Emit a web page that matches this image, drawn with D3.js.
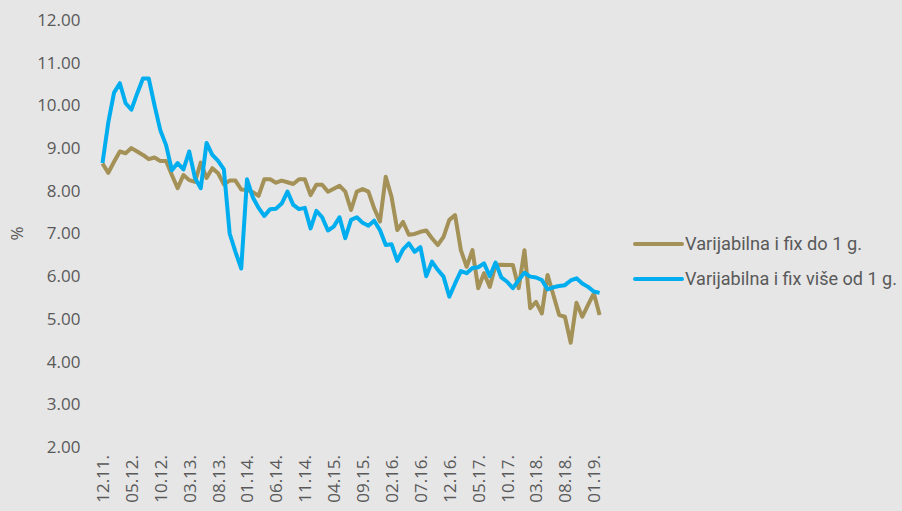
<!DOCTYPE html>
<html>
<head>
<meta charset="utf-8">
<script src="https://cdn.jsdelivr.net/npm/d3@7"></script>
<style>
  html, body { margin: 0; padding: 0; background: #e6e6e6; }
  svg { display: block; }
</style>
</head>
<body>
<div id="chart_root"></div>
<script>
const widthValue = 902;
const heightValue = 511;

// monthly points 12.11 .. 02.19, labels every 5 months
const tickLabels = ["12.11.", "05.12.", "10.12.", "03.13.", "08.13.", "01.14.", "06.14.", "11.14.", "04.15.",
  "09.15.", "02.16.", "07.16.", "12.16.", "05.17.", "10.17.", "03.18.", "08.18.", "01.19."];
const tickStep = 5;

const yTicks = [2, 3, 4, 5, 6, 7, 8, 9, 10, 11, 12];

const seriesNames = ["Varijabilna i fix do 1 g.", "Varijabilna i fix više od 1 g."];
const seriesColors = ["#a39157", "#00aeef"];

const shortRate = [
  8.64, 8.42, 8.68, 8.92, 8.88, 9.0, 8.92, 8.84, 8.74, 8.78,
  8.7, 8.7, 8.37, 8.06, 8.37, 8.25, 8.21, 8.66, 8.3, 8.53,
  8.41, 8.15, 8.24, 8.24, 8.03, 8.02, 7.97, 7.88, 8.27, 8.27,
  8.19, 8.24, 8.2, 8.16, 8.27, 8.27, 7.9, 8.14, 8.14, 7.98,
  8.05, 8.12, 7.98, 7.55, 7.98, 8.04, 7.98, 7.59, 7.28, 8.33,
  7.86, 7.08, 7.27, 6.97, 6.99, 7.04, 7.07, 6.89, 6.73, 6.92,
  7.32, 7.43, 6.61, 6.22, 6.61, 5.72, 6.07, 5.75, 6.26, 6.27,
  6.26, 6.26, 5.72, 6.61, 5.25, 5.4, 5.13, 6.03, 5.56, 5.09,
  5.05, 4.44, 5.38, 5.05, 5.33, 5.6, 5.09
];

const longRate = [
  8.65, 9.6, 10.3, 10.52, 10.05, 9.9, 10.28, 10.63, 10.63, 10.0,
  9.42, 9.07, 8.48, 8.65, 8.5, 8.92, 8.3, 8.06, 9.12, 8.84,
  8.7, 8.5, 7.0, 6.57, 6.18, 8.27, 7.85, 7.6, 7.41, 7.57,
  7.58, 7.7, 7.98, 7.67, 7.57, 7.6, 7.12, 7.53, 7.38, 7.07,
  7.16, 7.38, 6.89, 7.32, 7.38, 7.25, 7.18, 7.3, 7.08, 6.73,
  6.75, 6.36, 6.63, 6.77, 6.57, 6.68, 6.0, 6.34, 6.15, 5.99,
  5.52, 5.83, 6.12, 6.07, 6.19, 6.21, 6.3, 6.0, 6.32, 5.97,
  5.87, 5.72, 5.91, 6.08, 5.99, 5.97, 5.91, 5.69, 5.74, 5.77,
  5.79, 5.9, 5.95, 5.83, 5.75, 5.64, 5.61
];

const plot = { left: 102.5, right: 599.6, top: 20, bottom: 447 };

const svg = d3
  .select("#chart_root")
  .append("svg")
  .attr("width", widthValue)
  .attr("height", heightValue)
  .style("background", "#e6e6e6")
  .style("font-family", "'Open Sans', sans-serif");

// scales
const xScale = d3
  .scaleLinear()
  .domain([0, shortRate.length - 1])
  .range([plot.left, plot.right]);
const yScale = d3
  .scaleLinear()
  .domain([2, 12])
  .range([plot.bottom, plot.top]);

// y axis, labels only
const yAxis = svg
  .append("g")
  .attr("transform", "translate(" + (plot.left - 22) + ",0)")
  .call(d3.axisLeft(yScale).tickValues(yTicks).tickFormat(d3.format(".2f")).tickSize(0).tickPadding(0));
yAxis.select(".domain").remove();
yAxis
  .selectAll("text")
  .attr("fill", "#595959")
  .style("font-size", "17px")
  .style("font-family", "'Open Sans', sans-serif");

// x axis, rotated labels
const xAxis = svg
  .append("g")
  .attr("transform", "translate(0," + plot.bottom + ")")
  .call(
    d3
      .axisBottom(xScale)
      .tickValues(tickLabels.map((d, i) => i * tickStep))
      .tickFormat((d) => tickLabels[d / tickStep])
      .tickSize(0)
  );
xAxis.select(".domain").remove();
xAxis
  .selectAll("text")
  .attr("fill", "#595959")
  .style("font-size", "17px")
  .style("font-family", "'Open Sans', sans-serif")
  .attr("text-anchor", "end")
  .attr("transform", "rotate(-90)")
  .attr("x", -8)
  .attr("y", 0)
  .attr("dy", "0.35em");

// y title
svg
  .append("text")
  .attr("transform", "translate(17," + yScale(7) + ") rotate(-90)")
  .attr("text-anchor", "middle")
  .attr("dy", "0.35em")
  .attr("fill", "#595959")
  .style("font-size", "17px")
  .text("%");

// lines
const line = d3
  .line()
  .x((d, i) => xScale(i))
  .y((d) => yScale(d));

[shortRate, longRate].forEach((data, k) => {
  svg
    .append("path")
    .datum(data)
    .attr("fill", "none")
    .attr("stroke", seriesColors[k])
    .attr("stroke-width", 4)
    .attr("stroke-linejoin", "round")
    .attr("d", line);
});

// legend
const legendWidths = [177, 212];
const legend = svg.append("g").attr("transform", "translate(635,244)");
seriesNames.forEach((name, k) => {
  const g = legend.append("g").attr("transform", "translate(0," + k * 35 + ")");
  g.append("line")
    .attr("x1", 0)
    .attr("x2", 47)
    .attr("stroke", seriesColors[k])
    .attr("stroke-width", 4)
    .attr("stroke-linecap", "round");
  g.append("text")
    .attr("x", 50)
    .attr("dy", "0.35em")
    .attr("fill", "#595959")
    .style("font-size", "18px")
    .style("font-family", "'Liberation Sans Narrow', 'Roboto', sans-serif")
    .attr("textLength", legendWidths[k])
    .attr("lengthAdjust", "spacingAndGlyphs")
    .text(name);
});
</script>
</body>
</html>
